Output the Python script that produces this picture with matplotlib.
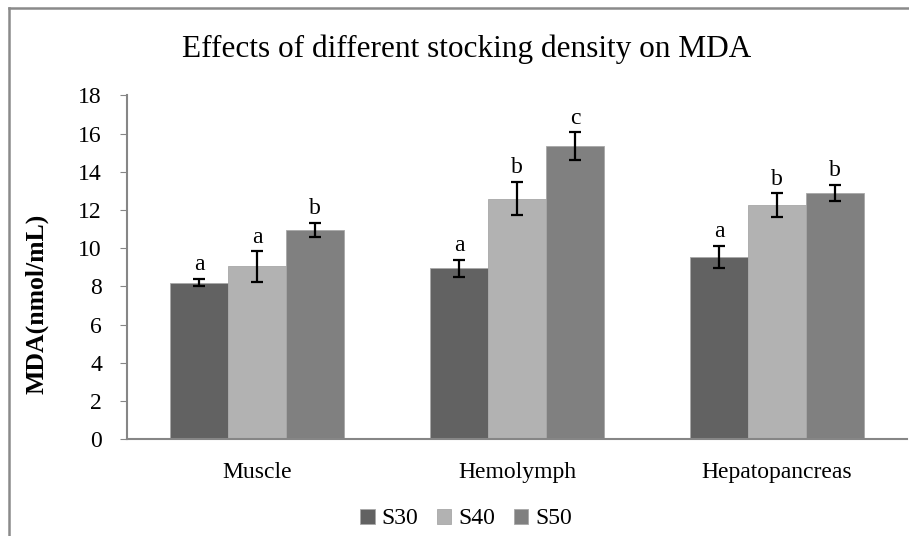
import matplotlib; matplotlib.use("agg")
import matplotlib.pyplot as plt
from matplotlib.lines import Line2D
import numpy as np

plt.rcParams['font.family'] = ['Liberation Serif', 'DejaVu Serif']

tissues = ['Muscle', 'Hemolymph', 'Hepatopancreas']
groups = ['S30', 'S40', 'S50']
means = {
    'S30': [8.2, 8.95, 9.55],
    'S40': [9.05, 12.6, 12.25],
    'S50': [10.95, 15.35, 12.9],
}
errs = {
    'S30': [0.2, 0.45, 0.58],
    'S40': [0.8, 0.87, 0.62],
    'S50': [0.38, 0.72, 0.42],
}
letters = {
    'S30': ['a', 'a', 'a'],
    'S40': ['a', 'b', 'b'],
    'S50': ['b', 'c', 'b'],
}
colors = {'S30': '#626262', 'S40': '#b2b2b2', 'S50': '#808080'}

fig = plt.figure(figsize=(9.09, 5.36), dpi=100)
ax = fig.add_axes([127/909, 1-439.3/536, 780/909, 344/536])

x = np.arange(len(tissues))
w = 0.223
for i, g in enumerate(groups):
    pos = x + (i - 1) * w
    ax.bar(pos, means[g], w, color=colors[g], edgecolor='#a8a8a8', linewidth=0.6,
           label=g, zorder=2)
    ax.errorbar(pos, means[g], yerr=errs[g], fmt='none', ecolor='black',
                elinewidth=1.6, capsize=4.3, capthick=1.6, zorder=3)
    for p, m, e, t in zip(pos, means[g], errs[g], letters[g]):
        ax.annotate(t, (p, m + e), xytext=(0, 2.5), textcoords='offset points',
                    ha='center', va='bottom', fontsize=17)

ax.set_xlim(-0.5, 2.5)
ax.set_ylim(0, 18)
ax.set_yticks(np.arange(0, 19, 2))
ax.set_xticks(x)
ax.set_xticklabels(tissues, fontsize=17)
ax.tick_params(axis='x', length=0, pad=16)
ax.tick_params(axis='y', labelsize=17, length=5, color='#868686', pad=13)
for s in ['top', 'right']:
    ax.spines[s].set_visible(False)
for s in ['left', 'bottom']:
    ax.spines[s].set_color('#868686')
    ax.spines[s].set_linewidth(1.5)
ax.set_ylabel('MDA(nmol/mL)', fontsize=18.5, fontweight='bold')
ax.yaxis.set_label_coords(-0.1, 0.393)

fig.text(0.513, 1-49/536, 'Effects of different stocking density on MDA',
         ha='center', va='center', fontsize=22.5)

fig.legend(loc='center', bbox_to_anchor=(0.513, 1-519/536), ncol=3, frameon=False,
           fontsize=17, handlelength=0.6, handleheight=0.6, handletextpad=0.3,
           columnspacing=0.8)

# figure border (cropped on right/bottom)
fig.add_artist(Line2D([9/909, 9/909], [0, 1-8/536], color='#8a8a8a', lw=1.8))
fig.add_artist(Line2D([9/909, 1], [1-8/536, 1-8/536], color='#8a8a8a', lw=1.8))

fig.savefig('out.png', dpi=100)
